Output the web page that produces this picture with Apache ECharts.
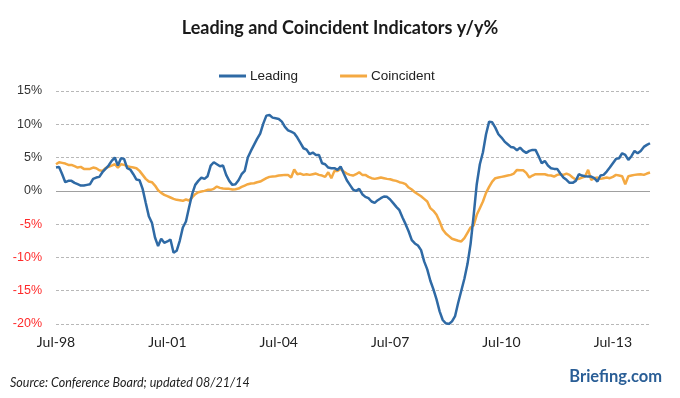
<!DOCTYPE html>
<html>
<head>
<meta charset="utf-8">
<script src="https://cdn.jsdelivr.net/npm/echarts@6/dist/echarts.min.js"></script>
<style>
html,body{margin:0;padding:0;background:#fff;}
#c{width:680px;height:398px;}
</style>
</head>
<body>
<div id="c"></div>
<script>
const titleText = "Leading and Coincident Indicators y/y%";
const seriesNames = ["Leading", "Coincident"];
const yTicks = [-20, -15, -10, -5, 0, 5, 10, 15];
const monthNames = ["Jan","Feb","Mar","Apr","May","Jun","Jul","Aug","Sep","Oct","Nov","Dec"];
const startYear = 1998, startMonth = 6; // Jul-98

const leading = [
3.5,3.6,2.5,1.3,1.5,1.5,1.2,1.0,0.8,0.8,0.9,1.0,1.8,2.0,2.1,2.8,3.3,3.8,4.5,5.0,
3.8,4.9,4.8,3.4,3.2,2.5,1.7,1.6,0.3,-1.8,-3.8,-4.8,-7.0,-8.3,-7.2,-7.8,-7.6,-7.3,-9.3,-9.0,
-7.5,-5.5,-4.6,-2.5,-0.5,0.9,1.5,2.0,1.8,2.2,3.8,4.3,4.0,3.7,3.8,2.4,1.5,0.9,1.0,1.6,
2.5,3.0,5.0,6.0,6.9,7.8,8.6,10.1,11.3,11.4,11.0,10.9,10.8,10.4,9.6,9.1,8.9,8.65,8.0,7.2,
6.4,6.2,5.5,5.75,5.4,5.4,4.15,4.0,3.5,3.4,3.4,3.15,3.65,2.6,1.6,0.9,0.2,0.0,0.3,-0.5,
-0.9,-1.1,-1.6,-1.8,-1.4,-1.1,-0.85,-0.9,-1.3,-1.85,-2.4,-2.9,-4.0,-5.0,-6.1,-7.4,-7.9,-8.2,-8.9,-10.6,
-11.8,-13.5,-14.8,-16.3,-18.1,-19.4,-19.9,-20.0,-19.6,-18.8,-16.8,-15.0,-13.2,-11.0,-8.0,-3.7,1.0,4.0,5.8,8.5,
10.4,10.3,9.5,8.5,8.0,7.4,7.0,6.6,6.5,6.1,6.5,6.0,5.7,6.0,6.15,6.15,5.2,4.15,4.5,3.8,
3.4,3.3,3.3,2.6,2.0,1.65,1.2,1.2,1.5,2.5,2.3,2.2,2.15,2.15,1.9,1.4,2.3,2.4,2.9,3.5,
4.15,4.8,4.9,5.65,5.4,4.65,5.2,6.0,5.65,6.0,6.6,6.9,7.15
];

const coincident = [
4.0,4.3,4.2,4.1,3.9,3.9,3.7,3.5,3.6,3.3,3.3,3.3,3.5,3.4,3.1,3.0,3.4,3.6,3.8,4.0,
3.5,4.0,3.9,3.7,3.6,3.5,3.4,3.0,2.4,1.8,1.4,1.3,0.8,0.1,-0.3,-0.6,-0.8,-1.0,-1.2,-1.35,
-1.4,-1.5,-1.3,-1.45,-1.0,-0.5,-0.2,-0.1,0.0,0.15,0.15,0.3,0.65,0.45,0.35,0.3,0.3,0.2,0.25,0.35,
0.6,0.8,1.0,1.1,1.15,1.3,1.4,1.65,1.9,2.1,2.15,2.2,2.3,2.35,2.4,2.4,2.0,3.2,2.5,2.6,
2.4,2.5,2.4,2.5,2.6,2.4,2.3,2.1,2.8,1.9,3.0,3.0,3.3,2.9,2.6,2.4,2.3,2.5,2.8,2.4,
2.4,2.1,1.9,1.8,1.9,2.0,1.9,1.8,1.75,1.6,1.5,1.3,1.2,1.0,0.5,0.2,-0.2,-0.5,-0.8,-1.2,
-1.6,-2.6,-3.0,-3.6,-4.6,-5.8,-6.4,-6.8,-7.2,-7.35,-7.5,-7.6,-7.1,-6.3,-5.5,-5.2,-3.6,-2.6,-1.6,-0.3,
0.6,1.4,1.9,2.0,2.1,2.2,2.3,2.4,2.6,3.15,3.1,3.1,2.7,2.0,2.3,2.5,2.5,2.5,2.5,2.35,
2.3,2.15,2.4,2.5,2.4,2.6,2.4,2.0,1.7,1.8,2.0,2.15,3.15,1.65,1.9,2.0,1.8,1.9,2.0,1.9,
2.1,2.4,2.3,2.2,1.0,2.2,2.3,2.4,2.45,2.5,2.4,2.6,2.75
];

const categories = leading.map((_, i) => {
  const m = startMonth + i;
  const y = startYear + Math.floor(m / 12);
  return monthNames[m % 12] + "-" + String(y % 100).padStart(2, "0");
});

const chart = echarts.init(document.getElementById("c"), null, {renderer: "canvas"});
chart.setOption({
  animation: false,
  backgroundColor: "#ffffff",
  title: {
    text: titleText,
    left: "center",
    top: 14,
    textStyle: {fontFamily: "Lato", fontWeight: "bold", fontSize: 18, color: "#1a1a1a"}
  },
  legend: {
    data: seriesNames,
    top: 64,
    left: 214,
    itemWidth: 27,
    itemHeight: 3,
    itemGap: 42,
    icon: "rect",
    textStyle: {fontFamily: "Liberation Sans", fontSize: 13.5, color: "#222", padding: [0, 0, 0, -1]}
  },
  grid: {left: 56, right: 30, top: 91, bottom: 74, containLabel: false},
  xAxis: {
    type: "category",
    data: categories,
    boundaryGap: false,
    axisLine: {show: false},
    axisTick: {show: false},
    axisLabel: {
      interval: 35,
      margin: 11,
      fontFamily: "Lato",
      fontSize: 14,
      color: "#222"
    },
    splitLine: {show: false}
  },
  yAxis: {
    type: "value",
    min: yTicks[0],
    max: yTicks[yTicks.length - 1],
    interval: 5,
    axisLine: {show: false},
    axisTick: {show: false},
    axisLabel: {
      formatter: "{value}%",
      margin: 14,
      fontFamily: "Liberation Sans",
      fontSize: 12.5,
      color: function (v) { return Number(v) < 0 ? "#ff2a2a" : "#333333"; }
    },
    splitLine: {lineStyle: {type: [3, 2], color: "#b8b8b8", width: 1}}
  },
  series: [
    {
      name: seriesNames[0],
      type: "line",
      data: leading,
      showSymbol: false,
      symbol: "none",
      lineStyle: {width: 2.5, color: "#2f6aa5"},
      itemStyle: {color: "#2f6aa5"},
      z: 3,
      markLine: {
        silent: true,
        symbol: "none",
        label: {show: false},
        lineStyle: {type: "solid", color: "#a0a0a0", width: 1},
        data: [{yAxis: 0}],
        z: 1
      }
    },
    {
      name: seriesNames[1],
      type: "line",
      data: coincident,
      showSymbol: false,
      symbol: "none",
      lineStyle: {width: 2.5, color: "#f4a942"},
      itemStyle: {color: "#f4a942"},
      z: 2
    }
  ],
  graphic: [
    {
      type: "text",
      left: 10,
      top: 376,
      style: {
        text: "Source: Conference Board; updated 08/21/14",
        font: "italic 12.5px Lato",
        fill: "#222"
      }
    },
    {
      type: "text",
      right: 18,
      top: 368,
      style: {
        text: "Briefing.com",
        font: "bold 16.5px Lato",
        fill: "#2a5e96"
      }
    }
  ]
});
</script>
</body>
</html>
